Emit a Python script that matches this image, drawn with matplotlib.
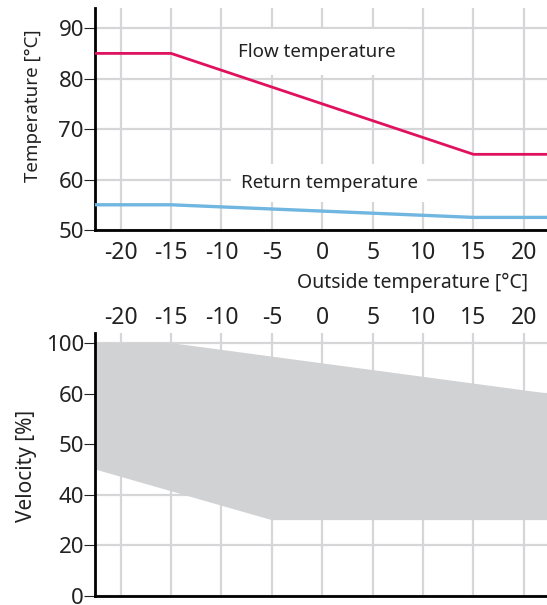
import matplotlib
matplotlib.use("Agg")
import matplotlib.pyplot as plt

plt.rcParams['font.family'] = ['Noto Sans', 'DejaVu Sans']

# Data
outside_x = [-22.5, -15, 15, 22.5]
flow_temp = [85, 85, 65, 65]
return_temp = [55, 55, 52.5, 52.5]

x_ticks = [-20, -15, -10, -5, 0, 5, 10, 15, 20]
x_ticklabels = ['-20', '-15', '-10', '-5', '0', '5', '10', '15', '20']
temp_ticks = [50, 60, 70, 80, 90]

vel_upper_x = [-22.5, -15, 22.5]
vel_upper_y = [100, 100, 80]
vel_lower_x = [-22.5, -5, 22.5]
vel_lower_y = [50, 30, 30]
vel_ticks = [0, 20, 40, 60, 80, 100]
vel_ticklabels = ['0', '20', '40', '50', '60', '100']

grid_c = '#d6d6d8'
flow_c = '#e0115f'
ret_c = '#6fb6e0'
fill_c = '#d1d2d4'
txt_c = '#222222'

fig = plt.figure(figsize=(5.47, 6.05), dpi=100)

# ---------- Top chart ----------
ax1 = fig.add_axes([0.1737, 0.6198, 0.8263, 0.367])
ax1.set_xlim(-22.55, 22.3)
ax1.set_ylim(50, 94)
ax1.set_xticks(x_ticks)
ax1.set_xticklabels(x_ticklabels)
ax1.set_yticks(temp_ticks)
ax1.grid(True, color=grid_c, linewidth=1.6)
ax1.set_axisbelow(True)
ax1.plot(outside_x, flow_temp, color=flow_c, linewidth=2.0, zorder=3)
ax1.plot(outside_x, return_temp, color=ret_c, linewidth=2.4, zorder=3)
for s in ['top', 'right']:
    ax1.spines[s].set_visible(False)
for s in ['left', 'bottom']:
    ax1.spines[s].set_linewidth(2.0)
    ax1.spines[s].set_color('black')
ax1.tick_params(axis='x', length=0, labelsize=16.5, pad=8, colors=txt_c)
ax1.tick_params(axis='y', length=8, width=0.8, labelsize=16, pad=0, colors=txt_c)
ax1.set_ylabel('Temperature [°C]', fontsize=13.5, color=txt_c)
ax1.yaxis.set_label_coords(-0.117, 0.558)
ax1.set_xlabel('Outside temperature [°C]', fontsize=14, color=txt_c, ha='right')
ax1.xaxis.set_label_coords(0.958, -0.195)
ax1.text(-8.4, 85.3, 'Flow temperature', fontsize=13.5, color=txt_c, va='center', ha='left',
         bbox=dict(facecolor='white', edgecolor='none', pad=10), zorder=2)
ax1.text(-8.1, 59.3, 'Return temperature', fontsize=13.5, color=txt_c, va='center', ha='left',
         bbox=dict(facecolor='white', edgecolor='none', pad=7), zorder=2)

# ---------- Bottom chart ----------
ax2 = fig.add_axes([0.1737, 0.0149, 0.8263, 0.4347])
ax2.set_xlim(-22.55, 22.3)
ax2.set_ylim(0, 104)
ax2.set_xticks(x_ticks)
ax2.set_xticklabels(x_ticklabels)
ax2.set_yticks(vel_ticks)
ax2.set_yticklabels(vel_ticklabels)
ax2.xaxis.tick_top()
ax2.grid(True, color=grid_c, linewidth=1.6)
ax2.set_axisbelow(True)
ax2.fill(vel_upper_x + vel_lower_x[::-1], vel_upper_y + vel_lower_y[::-1],
         color=fill_c, linewidth=0, zorder=2)
for s in ['top', 'right']:
    ax2.spines[s].set_visible(False)
for s in ['left', 'bottom']:
    ax2.spines[s].set_linewidth(2.0)
    ax2.spines[s].set_color('black')
ax2.tick_params(axis='x', length=0, labelsize=16.5, pad=2, colors=txt_c)
ax2.tick_params(axis='y', length=8, width=0.8, labelsize=16, pad=0, colors=txt_c)
ax2.set_ylabel('Velocity [%]', fontsize=15, color=txt_c)
ax2.yaxis.set_label_coords(-0.128, 0.494)

fig.savefig('out.png', dpi=100)
